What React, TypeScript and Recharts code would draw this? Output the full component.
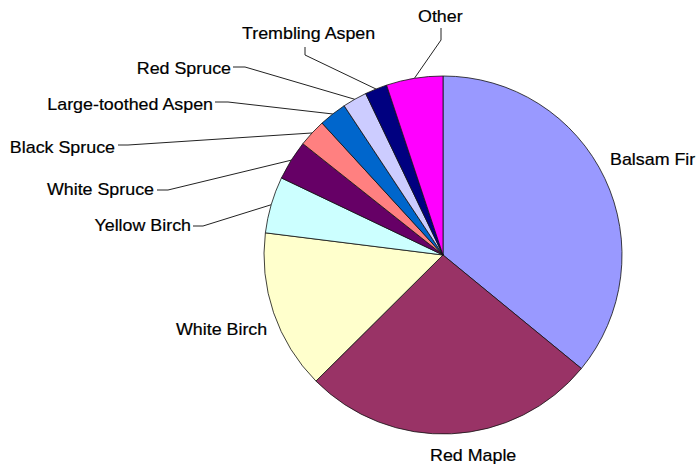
import React from 'react';
import { PieChart, Pie, Cell } from 'recharts';

const SPECIES = [
  'Balsam Fir',
  'Red Maple',
  'White Birch',
  'Yellow Birch',
  'White Spruce',
  'Black Spruce',
  'Large-toothed Aspen',
  'Red Spruce',
  'Trembling Aspen',
  'Other',
];

const SHARES = [35.9, 26.6, 14.4, 5.1, 3.6, 2.5, 2.5, 2.2, 2.0, 5.1];

const COLORS = [
  '#9999FF',
  '#993366',
  '#FFFFCC',
  '#CCFFFF',
  '#660066',
  '#FF8080',
  '#0066CC',
  '#CCCCFF',
  '#000080',
  '#FF00FF',
];

// Label layout, as offsets from the pie centre (Excel-style manual placement)
type LabelLayout = {
  dx: number;
  dy: number;
  anchor: 'start' | 'end';
  path?: [number, number][];
};

const LABEL_LAYOUT: Record<string, LabelLayout> = {
  'Balsam Fir': { dx: 167, dy: -90, anchor: 'start' },
  'Red Maple': { dx: -13, dy: 206, anchor: 'start' },
  'White Birch': { dx: -267, dy: 80, anchor: 'start' },
  'Yellow Birch': { dx: -252, dy: -24, anchor: 'end', path: [[-250, -29], [-240, -29]] },
  'White Spruce': { dx: -289, dy: -60, anchor: 'end', path: [[-286, -65], [-275, -65]] },
  'Black Spruce': { dx: -328, dy: -102, anchor: 'end', path: [[-325, -110], [-315, -110]] },
  'Large-toothed Aspen': { dx: -230, dy: -145, anchor: 'end', path: [[-228, -153], [-215, -153]] },
  'Red Spruce': { dx: -212, dy: -181, anchor: 'end', path: [[-210, -188], [-198, -188]] },
  'Trembling Aspen': { dx: -201, dy: -216, anchor: 'start', path: [[-138, -208], [-138, -200]] },
  Other: { dx: -25, dy: -233, anchor: 'start', path: [[-2, -227], [-2, -215]] },
};

const data = SPECIES.map((name, i) => ({ name, value: SHARES[i] }));

const RAD = Math.PI / 180;

const renderLabel = (props: any) => {
  const { cx, cy, midAngle, outerRadius, name } = props;
  const layout = LABEL_LAYOUT[name];
  if (!layout) return null;
  const ex = cx + Math.cos(-midAngle * RAD) * outerRadius;
  const ey = cy + Math.sin(-midAngle * RAD) * outerRadius;
  const tx = cx + layout.dx;
  const ty = cy + layout.dy;
  let line: React.ReactNode = null;
  if (layout.path) {
    const pts = layout.path.map(([px, py]) => `${cx + px},${cy + py}`);
    pts.push(`${ex},${ey}`);
    line = <polyline points={pts.join(' ')} fill="none" stroke="#222" strokeWidth={1} />;
  }
  return (
    <g key={`lbl-${name}`}>
      {line}
      <text
        transform={`translate(${tx},${ty}) scale(1.05,1)`}
        x={0}
        y={0}
        textAnchor={layout.anchor}
        fontSize={17}
        fontFamily="'Liberation Sans', Arial, sans-serif"
        fill="#000"
        stroke="#000"
        strokeWidth={0.2}
      >
        {name}
      </text>
    </g>
  );
};

export default function App() {
  return (
    <div style={{ position: 'absolute', left: 0, top: 0, width: 699, height: 465, background: '#fff' }}>
      <PieChart width={699} height={465} margin={{ top: 0, right: 0, bottom: 0, left: 0 }}>
        <Pie
          data={data}
          dataKey="value"
          nameKey="name"
          cx={443}
          cy={255}
          outerRadius={179}
          startAngle={90}
          endAngle={-270}
          stroke="#111"
          strokeWidth={0.8}
          label={renderLabel}
          labelLine={false}
          isAnimationActive={false}
        >
          {data.map((d, i) => (
            <Cell key={d.name} fill={COLORS[i]} />
          ))}
        </Pie>
      </PieChart>
    </div>
  );
}
